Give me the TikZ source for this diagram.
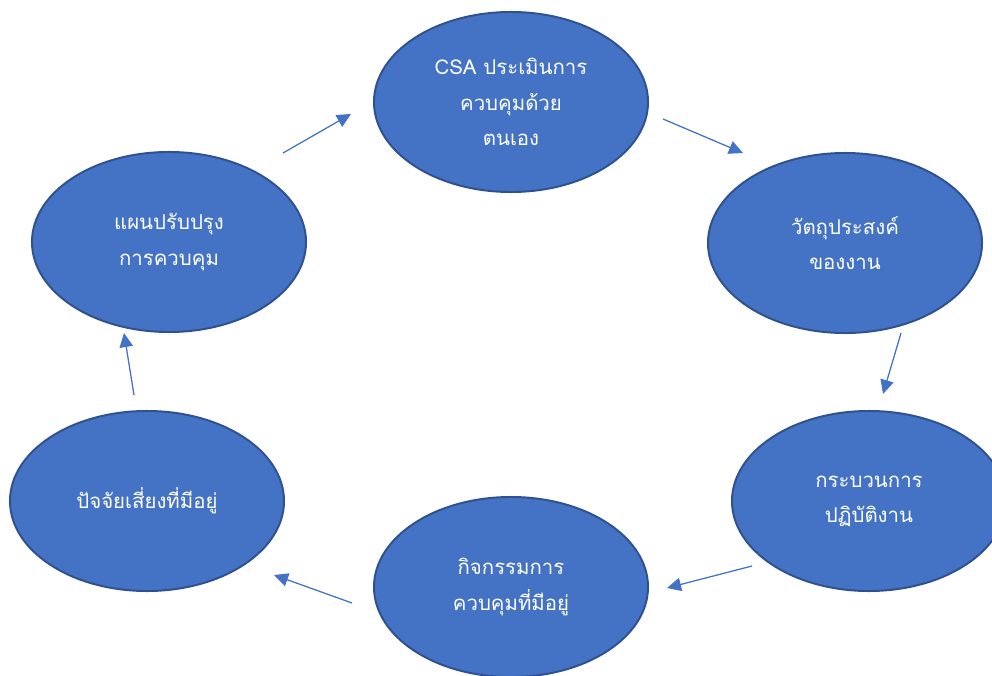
\documentclass[tikz,border=0pt]{standalone}
\usepackage{fontspec}
\newfontfamily\thaifont[Script=Thai]{Loma}
\usetikzlibrary{shapes.geometric,arrows.meta}
\definecolor{csafill}{HTML}{4472C4}
\definecolor{csaline}{HTML}{2F528F}
\tikzset{
	bubble/.style={ellipse, draw=csaline, line width=1.4pt, fill=csafill,
		minimum width=6.85cm, minimum height=4.5cm, inner sep=0pt,
		text=white, align=center, font=\thaifont\fontsize{14.5}{25}\selectfont},
	flow/.style={draw=csafill, line width=0.9pt, -{Triangle[length=10pt,width=9.5pt]}}
}

\begin{document}
\begin{tikzpicture}[x=0.025cm, y=-0.025cm]
		%%%%% START %%%%%
		
		\useasboundingbox (0, 0) rectangle (992, 676);
		
		\node[bubble] (csa) at (511, 102) {CSA ประเมินการ\\ควบคุมด้วย\\ตนเอง};
		\node[bubble] (goal) at (845, 243) {วัตถุประสงค์\\ของงาน};
		\node[bubble] (proc) at (869, 501) {กระบวนการ\\ปฏิบัติงาน};
		\node[bubble] (ctrl) at (511, 587) {กิจกรรมการ\\ควบคุมที่มีอยู่};
		\node[bubble] (risk) at (147, 501) {ปัจจัยเสี่ยงที่มีอยู่};
		\node[bubble] (plan) at (169, 242) {แผนปรับปรุง\\การควบคุม};
		
		% arrow ends, kept apart from the ellipses
		\coordinate (plan-out) at (283, 153);
		\coordinate (csa-in) at (351, 114);
		\coordinate (csa-out) at (663, 119);
		\coordinate (goal-in) at (743, 153);
		\coordinate (goal-out) at (901, 333);
		\coordinate (proc-in) at (883, 394);
		\coordinate (proc-out) at (752, 566);
		\coordinate (ctrl-in) at (667, 588);
		\coordinate (ctrl-out) at (352, 603);
		\coordinate (risk-in) at (274, 575);
		\coordinate (risk-out) at (134, 395);
		\coordinate (plan-in) at (124, 333);
		
		\draw[flow] (plan-out) -- (csa-in);
		\draw[flow] (csa-out) -- (goal-in);
		\draw[flow] (goal-out) -- (proc-in);
		\draw[flow] (proc-out) -- (ctrl-in);
		\draw[flow] (ctrl-out) -- (risk-in);
		\draw[flow] (risk-out) -- (plan-in);
		
		%%%%% END %%%%%
\end{tikzpicture}
\end{document}
